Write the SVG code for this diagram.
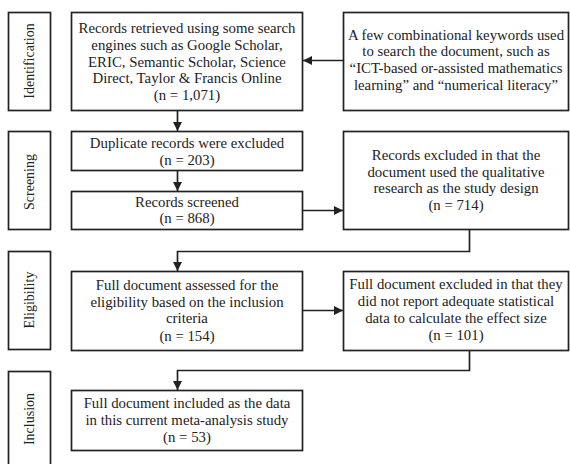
<svg xmlns="http://www.w3.org/2000/svg" width="570" height="464" viewBox="0 0 570 464">
<defs>
<style>
.box{fill:#fff;stroke:#222;stroke-width:1.7}
.t{font-family:"Liberation Serif","Times New Roman",Tinos,serif;font-size:14.8px;fill:#222;text-anchor:middle}
.s{font-family:"Liberation Serif","Times New Roman",Tinos,serif;font-size:14px;fill:#222;text-anchor:middle}
.ln{fill:none;stroke:#222;stroke-width:1.7}
</style>
<marker id="ah" viewBox="0 0 10 10" refX="10" refY="5" markerWidth="9" markerHeight="9" markerUnits="userSpaceOnUse" orient="auto">
<path d="M0,0 L10,5 L0,10 Z" fill="#222"/>
</marker>
</defs>
<rect width="570" height="464" fill="#fff"/>
<g id="stage-identification">
<rect class="box" x="8.5" y="12.5" width="42" height="98"/>
<text class="s" transform="translate(34,61) rotate(-90)">Identification</text>
</g>
<g id="stage-screening">
<rect class="box" x="8.5" y="131.5" width="42" height="98"/>
<text class="s" transform="translate(34,182) rotate(-90)">Screening</text>
</g>
<g id="stage-eligibility">
<rect class="box" x="8.5" y="251.5" width="42" height="98"/>
<text class="s" transform="translate(34,300) rotate(-90)">Eligibility</text>
</g>
<g id="stage-inclusion">
<rect class="box" x="8.5" y="371.5" width="42" height="98"/>
<text class="s" transform="translate(34,419) rotate(-90)">Inclusion</text>
</g>
<g id="records-retrieved">
<rect class="box" x="71.5" y="12.5" width="231" height="98"/>
<text class="t" x="187" y="33">Records retrieved using some search</text>
<text class="t" x="187" y="50">engines such as Google Scholar,</text>
<text class="t" x="187" y="67">ERIC, Semantic Scholar, Science</text>
<text class="t" x="187" y="83">Direct, Taylor &amp; Francis Online</text>
<text class="t" x="187" y="100">(n = 1,071)</text>
</g>
<g id="keywords">
<rect class="box" x="343.5" y="12.5" width="225" height="98"/>
<text class="t" x="456" y="40">A few combinational keywords used</text>
<text class="t" x="456" y="56">to search the document, such as</text>
<text class="t" x="456" y="73">“ICT-based or-assisted mathematics</text>
<text class="t" x="456" y="90">learning” and “numerical literacy”</text>
</g>
<g id="duplicates">
<rect class="box" x="71.5" y="131.5" width="231" height="39"/>
<text class="t" x="187" y="148">Duplicate records were excluded</text>
<text class="t" x="187" y="165">(n = 203)</text>
</g>
<g id="screened">
<rect class="box" x="71.5" y="191.5" width="231" height="38"/>
<text class="t" x="187" y="207">Records screened</text>
<text class="t" x="187" y="223">(n = 868)</text>
</g>
<g id="excluded-qualitative">
<rect class="box" x="343.5" y="131.5" width="225" height="98"/>
<text class="t" x="456" y="160">Records excluded in that the</text>
<text class="t" x="456" y="177">document used the qualitative</text>
<text class="t" x="456" y="193">research as the study design</text>
<text class="t" x="456" y="210">(n = 714)</text>
</g>
<g id="assessed">
<rect class="box" x="71.5" y="271.5" width="231" height="79"/>
<text class="t" x="187" y="290">Full document assessed for the</text>
<text class="t" x="187" y="307">eligibility based on the inclusion</text>
<text class="t" x="187" y="323">criteria</text>
<text class="t" x="187" y="341">(n = 154)</text>
</g>
<g id="excluded-statistics">
<rect class="box" x="343.5" y="271.5" width="225" height="79"/>
<text class="t" x="456" y="289">Full document excluded in that they</text>
<text class="t" x="456" y="306">did not report adequate statistical</text>
<text class="t" x="456" y="323">data to calculate the effect size</text>
<text class="t" x="456" y="340">(n = 101)</text>
</g>
<g id="included">
<rect class="box" x="71.5" y="390.5" width="231" height="60"/>
<text class="t" x="187" y="408">Full document included as the data</text>
<text class="t" x="187" y="425">in this current meta-analysis study</text>
<text class="t" x="187" y="442">(n = 53)</text>
</g>
<g id="connectors">
<path class="ln" d="M343.5,60.5 H303" marker-end="url(#ah)"/>
<path class="ln" d="M177.5,110.5 V131" marker-end="url(#ah)"/>
<path class="ln" d="M177.5,170.5 V191" marker-end="url(#ah)"/>
<path class="ln" d="M302.5,210.5 H343" marker-end="url(#ah)"/>
<path class="ln" d="M469.5,229.5 V251.5 H177.5 V271" marker-end="url(#ah)"/>
<path class="ln" d="M302.5,310.5 H343" marker-end="url(#ah)"/>
<path class="ln" d="M469.5,350.5 V370.5 H177.5 V390" marker-end="url(#ah)"/>
</g>
</svg>
